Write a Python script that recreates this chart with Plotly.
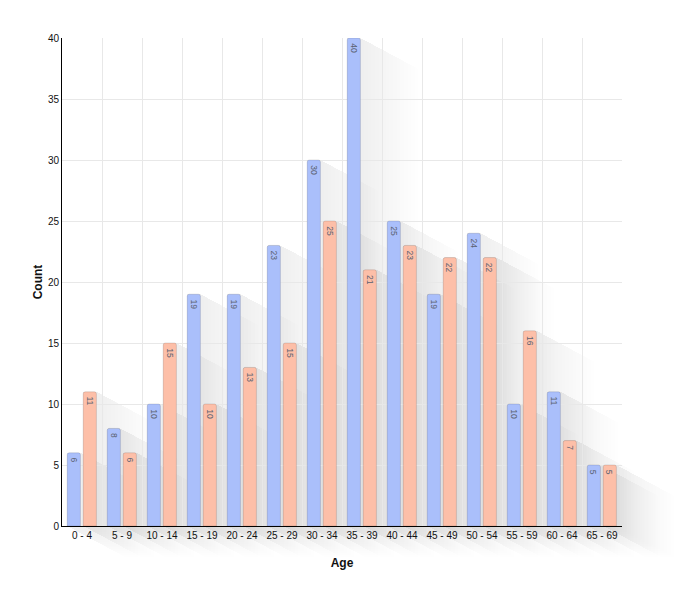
import plotly.graph_objects as go

categories = ["0 - 4", "5 - 9", "10 - 14", "15 - 19", "20 - 24", "25 - 29", "30 - 34",
              "35 - 39", "40 - 44", "45 - 49", "50 - 54", "55 - 59", "60 - 64", "65 - 69"]
series_a = [6, 8, 10, 19, 19, 23, 30, 40, 25, 19, 24, 10, 11, 5]
series_b = [11, 6, 15, 10, 13, 15, 25, 21, 23, 22, 22, 16, 7, 5]
y_ticks = [0, 5, 10, 15, 20, 25, 30, 35, 40]

W, H = 690, 601
ML, MR, MT, MB = 62, 68, 38, 75
PW, PH = W - ML - MR, H - MT - MB
YMAX = 40
N = len(categories)

BAR_W = 0.33
OFF_A, OFF_B = -0.37, 0.03
COL_A, COL_B = "#aabffb", "#fdbfa8"
SH_A, SH_B = "rgba(70,85,160,0.0079)", "rgba(115,82,78,0.0079)"

# long shadow sweep in pixels
SX, SY = 58, 31
LAYERS = 16

shapes = []
annotations = []
def add_shadow(i, v, off, color):
    x0 = (i + 0.5 + off) / N
    x1 = (i + 0.5 + off + BAR_W) / N
    yt = v / YMAX
    yb = 0.0
    for k in range(1, LAYERS + 1):
        t = k / LAYERS
        dx = SX * t / PW
        dy = -SY * t / PH
        path = (f"M{x0},{yt} L{x1},{yt} L{x1+dx},{yt+dy} L{x1+dx},{yb+dy} "
                f"L{x0+dx},{yb+dy} L{x0},{yb} Z")
        shapes.append(dict(type="path", xref="paper", yref="paper", path=path,
                           fillcolor=color, line=dict(width=0), layer="below"))

def add_label(i, v, off):
    annotations.append(dict(x=i + off + BAR_W / 2, y=v, xref="x", yref="y",
                            text=str(v), showarrow=False, textangle=90,
                            xanchor="center", yanchor="top", yshift=-3,
                            font=dict(size=8.5, color="#5a5f70")))

for i in range(N):
    add_shadow(i, series_a[i], OFF_A, SH_A)
    add_shadow(i, series_b[i], OFF_B, SH_B)
    add_label(i, series_a[i], OFF_A)
    add_label(i, series_b[i], OFF_B)

fig = go.Figure()
for vals, off, col in [(series_a, OFF_A, COL_A), (series_b, OFF_B, COL_B)]:
    fig.add_trace(go.Bar(
        x=list(range(N)), y=vals, width=BAR_W, offset=off,
        marker=dict(color=col, line=dict(color="rgba(0,0,0,0.12)", width=1), cornerradius=2),
        showlegend=False, hoverinfo="skip",
    ))

fig.update_layout(
    width=W, height=H,
    margin=dict(l=ML, r=MR, t=MT, b=MB, autoexpand=False),
    paper_bgcolor="white", plot_bgcolor="rgba(0,0,0,0)",
    barmode="group", shapes=shapes, annotations=annotations,
    font=dict(family="Liberation Sans", size=10, color="#111"),
    xaxis=dict(
        range=[-0.5, N - 0.5], tickmode="array", tickvals=list(range(N)), ticktext=categories,
        showgrid=False, showline=True, linecolor="black", linewidth=1, ticks="",
        zeroline=False, fixedrange=True,
        title=dict(text="<b>Age</b>", font=dict(size=12), standoff=18),
        minor=dict(tickvals=[i + 0.5 for i in range(N)], showgrid=True,
                   gridcolor="#e8e8e8", gridwidth=1),
    ),
    yaxis=dict(
        range=[0, YMAX], tickvals=y_ticks, showgrid=True, gridcolor="#e8e8e8",
        showline=True, linecolor="black", linewidth=1, ticks="", zeroline=False,
        title=dict(text="<b>Count</b>", font=dict(size=12), standoff=2),
    ),
)

fig.write_html("out.html")
